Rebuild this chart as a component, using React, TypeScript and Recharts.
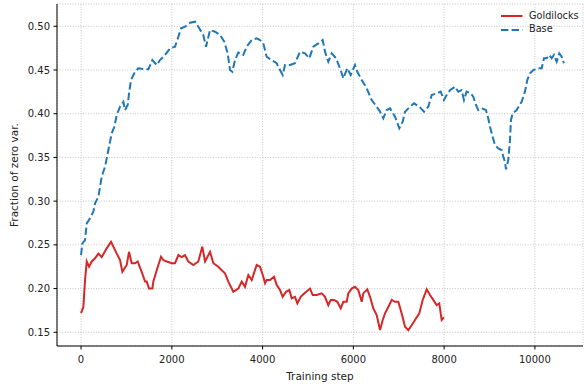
import React from "react";
import {
  LineChart,
  Line,
  XAxis,
  YAxis,
  CartesianGrid,
  ReferenceArea,
} from "recharts";

const goldSteps = [
  0, 51, 88, 125, 176, 235, 308, 382, 455, 565, 661, 712, 786, 859, 910, 1006,
  1057, 1116, 1190, 1248, 1336, 1410, 1447, 1498, 1571, 1593, 1667, 1762, 1813,
  1887, 1998, 2071, 2144, 2218, 2291, 2364, 2474, 2584, 2672, 2732, 2842, 2915,
  3025, 3099, 3172, 3245, 3355, 3465, 3539, 3613, 3686, 3760, 3870, 3943, 4016,
  4054, 4090, 4164, 4252, 4311, 4384, 4443, 4516, 4590, 4642, 4714, 4766, 4840,
  4935, 5045, 5104, 5192, 5302, 5375, 5448, 5501, 5574, 5647, 5721, 5779, 5853,
  5889, 5963, 6036, 6109, 6184, 6219, 6307, 6367, 6440, 6514, 6588, 6647, 6697,
  6770, 6845, 6918, 6991, 7065, 7138, 7211, 7285, 7358, 7453, 7528, 7616, 7689,
  7761, 7835, 7893, 7946, 7996,
];
const goldValues = [
  0.172, 0.179, 0.21, 0.231, 0.225, 0.231, 0.2346, 0.24, 0.236, 0.246, 0.2536,
  0.248, 0.24, 0.2326, 0.2192, 0.227, 0.242, 0.229, 0.229, 0.231, 0.219, 0.208,
  0.208, 0.2, 0.2, 0.208, 0.221, 0.2364, 0.2326, 0.231, 0.229, 0.229, 0.2383,
  0.236, 0.2383, 0.231, 0.227, 0.231, 0.248, 0.231, 0.242, 0.229, 0.225, 0.221,
  0.2174, 0.208, 0.1963, 0.2, 0.208, 0.202, 0.2155, 0.2097, 0.227, 0.225,
  0.2135, 0.206, 0.2097, 0.2097, 0.2135, 0.204, 0.1983, 0.1906, 0.1963, 0.1983,
  0.1888, 0.1906, 0.183, 0.1906, 0.1952, 0.2, 0.1926, 0.1926, 0.1945, 0.1906,
  0.181, 0.187, 0.187, 0.1849, 0.1773, 0.1849, 0.1849, 0.1945, 0.2, 0.202,
  0.1983, 0.1849, 0.1945, 0.1991, 0.1906, 0.1773, 0.1697, 0.1525, 0.164,
  0.1716, 0.179, 0.187, 0.1849, 0.1849, 0.1716, 0.1563, 0.1525, 0.158, 0.164,
  0.1716, 0.187, 0.1991, 0.1926, 0.187, 0.181, 0.183, 0.164, 0.167,
];

const baseSteps = [
  0, 29, 88, 125, 198, 271, 308, 382, 455, 529, 602, 676, 734, 786, 859, 932,
  969, 1028, 1057, 1101, 1190, 1262, 1410, 1483, 1571, 1667, 1740, 1850, 1961,
  2071, 2144, 2203, 2291, 2401, 2511, 2584, 2694, 2754, 2842, 2952, 3062, 3157,
  3231, 3282, 3333, 3392, 3465, 3575, 3650, 3760, 3870, 3943, 4016, 4090, 4201,
  4311, 4384, 4443, 4494, 4604, 4714, 4825, 4935, 5030, 5118, 5228, 5324, 5375,
  5448, 5523, 5618, 5706, 5779, 5867, 5941, 6036, 6087, 6184, 6294, 6404, 6514,
  6588, 6660, 6735, 6807, 6918, 7012, 7087, 7138, 7248, 7336, 7453, 7557, 7651,
  7726, 7836, 7924, 7996, 8056, 8129, 8188, 8238, 8312, 8386, 8437, 8496, 8584,
  8642, 8702, 8752, 8826, 8921, 8972, 9010, 9069, 9120, 9193, 9268, 9304, 9340,
  9363, 9414, 9451, 9473, 9510, 9598, 9708, 9781, 9832, 9892, 9965, 10075,
  10150, 10200, 10259, 10318, 10370, 10421, 10480, 10538, 10590, 10640,
];
const baseValues = [
  0.2383, 0.2517, 0.2555, 0.2746, 0.2803, 0.288, 0.2975, 0.305, 0.328, 0.3394,
  0.3585, 0.3776, 0.385, 0.3985, 0.408, 0.4137, 0.4042, 0.41, 0.4233, 0.4386,
  0.448, 0.452, 0.4508, 0.4508, 0.4614, 0.4557, 0.4614, 0.4672, 0.4748, 0.4767,
  0.488, 0.4977, 0.4995, 0.504, 0.5053, 0.4995, 0.49, 0.4767, 0.4958, 0.4938,
  0.49, 0.4824, 0.469, 0.45, 0.448, 0.4614, 0.47, 0.4672, 0.4767, 0.4843,
  0.4863, 0.4843, 0.4805, 0.4652, 0.4614, 0.4577, 0.45, 0.4443, 0.4557, 0.4557,
  0.4577, 0.471, 0.469, 0.4634, 0.4767, 0.4805, 0.4843, 0.471, 0.4595, 0.469,
  0.4634, 0.452, 0.4405, 0.452, 0.4443, 0.4557, 0.448, 0.4386, 0.429, 0.4157,
  0.408, 0.4023, 0.3947, 0.4042, 0.4062, 0.3966, 0.3833, 0.3908, 0.4023, 0.408,
  0.4119, 0.408, 0.4023, 0.408, 0.4214, 0.4233, 0.4252, 0.4157, 0.4214, 0.427,
  0.429, 0.4309, 0.4252, 0.427, 0.4157, 0.4252, 0.4233, 0.4195, 0.41, 0.4042,
  0.4062, 0.4042, 0.3947, 0.3852, 0.3737, 0.3642, 0.3604, 0.3585, 0.3508,
  0.345, 0.3364, 0.347, 0.37, 0.3928, 0.4004, 0.4042, 0.4137, 0.4252, 0.4386,
  0.4462, 0.45, 0.452, 0.452, 0.4634, 0.4634, 0.4672, 0.4634, 0.4672, 0.4595,
  0.469, 0.4652, 0.4577,
];

const xTicks = [0, 2000, 4000, 6000, 8000, 10000];
const yTicks = [0.15, 0.2, 0.25, 0.3, 0.35, 0.4, 0.45, 0.5];

const seriesNames = ["Goldilocks", "Base"];
const RED = "#d62728";
const BLUE = "#1f77b4";
const FONT = "'DejaVu Sans', sans-serif";

const goldData = goldSteps.map((x, i) => ({ x, y: goldValues[i] }));
const baseData = baseSteps.map((x, i) => ({ x, y: baseValues[i] }));

export default function App() {
  return (
    <div
      style={{
        position: "absolute",
        left: 0,
        top: 0,
        width: 584,
        height: 387,
        background: "#fff",
        fontFamily: FONT,
      }}
    >
      <LineChart
        width={584}
        height={387}
        margin={{ top: 4, right: 1, bottom: 0, left: 0 }}
      >
        <CartesianGrid
          stroke="#b8b8b8"
          strokeWidth={0.8}
          strokeDasharray="1 1.6"
        />
        <XAxis
          dataKey="x"
          type="number"
          domain={[-530, 11060]}
          ticks={xTicks}
          allowDataOverflow
          height={41}
          tickSize={3.5}
          tickMargin={6.5}
          stroke="#000"
          tick={{ fill: "#222", fontSize: 10, fontFamily: FONT }}
          label={{
            value: "Training step",
            position: "insideBottom",
            offset: 7,
            style: { fill: "#222", fontSize: 10.5, fontFamily: FONT },
          }}
        />
        <YAxis
          type="number"
          domain={[0.1343, 0.5255]}
          ticks={yTicks}
          allowDataOverflow
          width={57}
          tickSize={3.5}
          tickMargin={3.5}
          stroke="#000"
          tickFormatter={(v: number) => v.toFixed(2)}
          tick={{ fill: "#222", fontSize: 10, fontFamily: FONT }}
          label={{
            value: "Fraction of zero var.",
            angle: -90,
            position: "insideLeft",
            offset: 14,
            style: {
              fill: "#222",
              fontSize: 10.5,
              fontFamily: FONT,
              textAnchor: "middle",
            },
          }}
        />
        <Line
          data={goldData}
          dataKey="y"
          name={seriesNames[0]}
          stroke={RED}
          strokeWidth={2}
          dot={false}
          isAnimationActive={false}
        />
        <Line
          data={baseData}
          dataKey="y"
          name={seriesNames[1]}
          stroke={BLUE}
          strokeWidth={2}
          strokeDasharray="7.4 3.2"
          dot={false}
          isAnimationActive={false}
        />
        <ReferenceArea
          fill="none"
          stroke="#000"
          strokeWidth={1}
          ifOverflow="visible"
        />
      </LineChart>
      <div
        style={{
          position: "absolute",
          left: 498,
          top: 9,
          fontSize: 9.7,
          color: "#222",
          fontFamily: FONT,
          lineHeight: "13.4px",
        }}
      >
        {seriesNames.map((n, i) => (
          <div key={n} style={{ display: "flex", alignItems: "center" }}>
            <svg width={31} height={13} style={{ display: "block" }}>
              <line
                x1={3}
                x2={24.5}
                y1={7}
                y2={7}
                stroke={i === 0 ? RED : BLUE}
                strokeWidth={2}
                strokeDasharray={i === 0 ? undefined : "7.4 3.2"}
              />
            </svg>
            <span>{n}</span>
          </div>
        ))}
      </div>
    </div>
  );
}
